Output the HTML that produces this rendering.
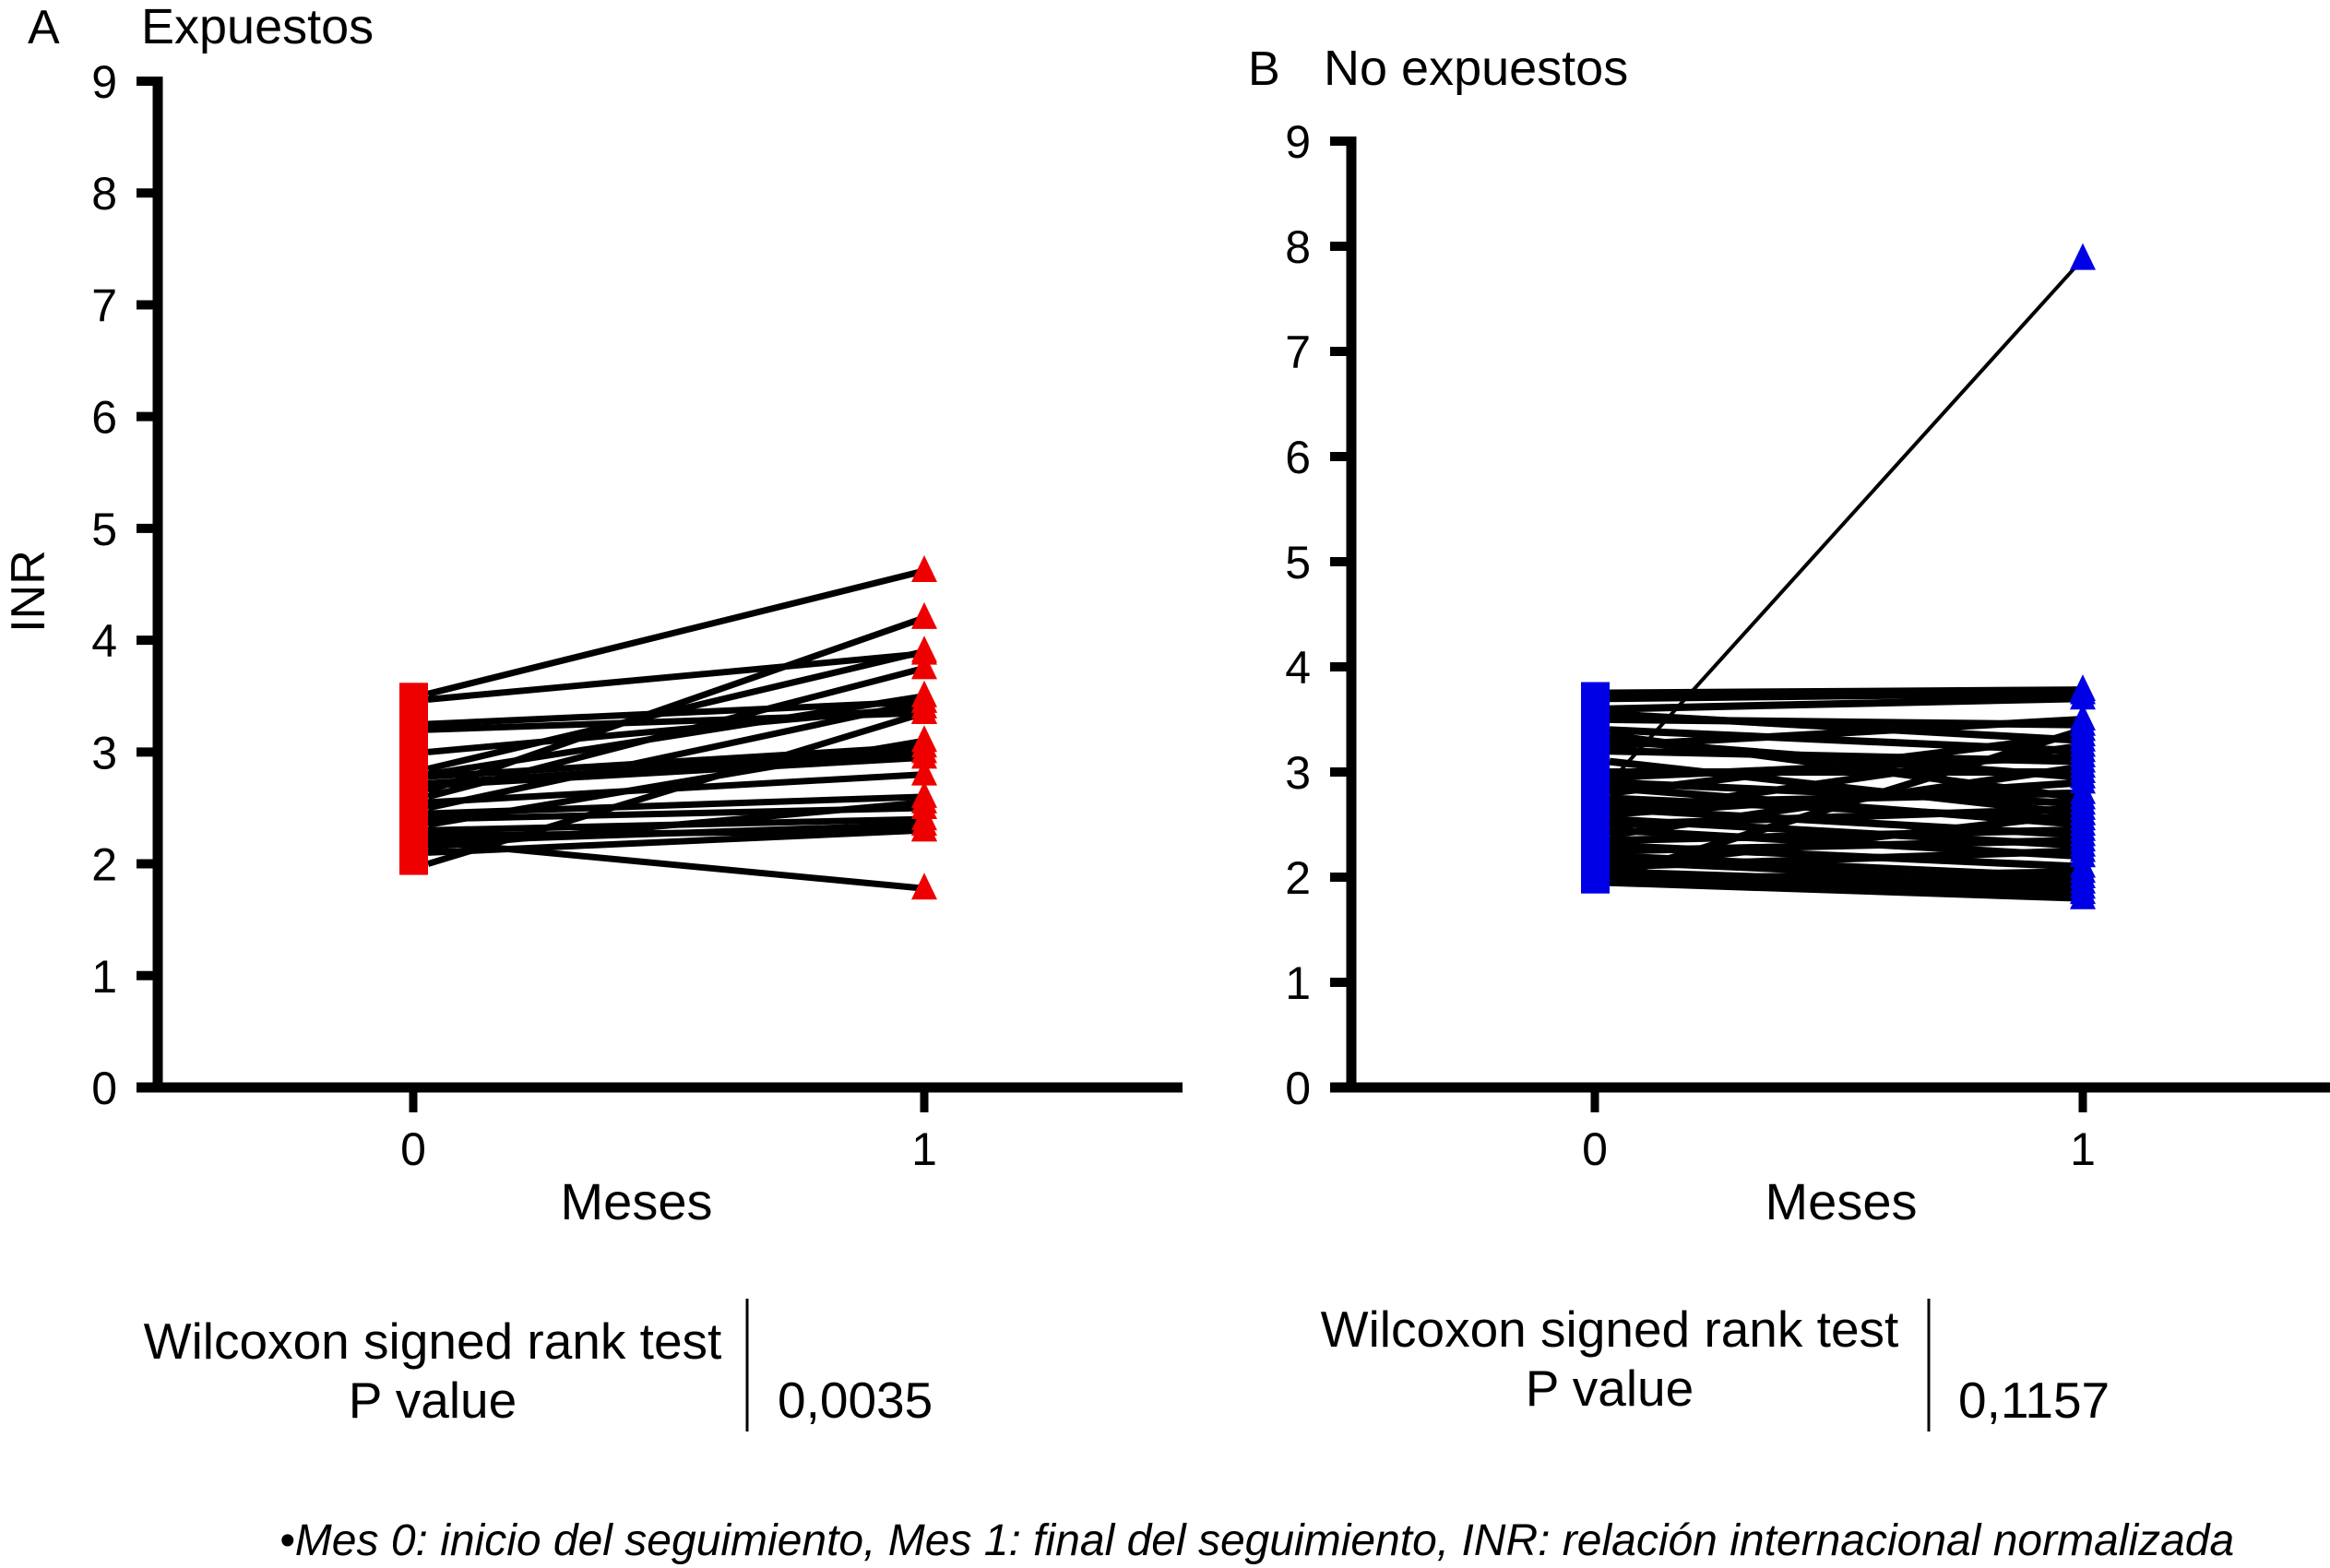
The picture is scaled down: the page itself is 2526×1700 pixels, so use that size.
<!DOCTYPE html>
<html><head><meta charset="utf-8">
<style>
html,body{margin:0;padding:0;background:#fff;}
svg{display:block;}
text{font-family:"Liberation Sans",Arial,sans-serif;fill:#000;}
</style></head>
<body>
<svg id="chart" width="2526" height="1700" viewBox="0 0 2526 1700" xmlns="http://www.w3.org/2000/svg">
<g id="panelA"></g>
<g id="panelB"></g>
<text x="30" y="47" font-size="52">A</text>
<text x="153" y="47" font-size="54">Expuestos</text>
<text x="1353" y="92" font-size="52">B</text>
<text x="1435" y="92" font-size="54">No expuestos</text>
<text transform="translate(48,641) rotate(-90)" text-anchor="middle" font-size="52">INR</text>
<text x="469" y="1473" text-anchor="middle" font-size="55">Wilcoxon signed rank test</text>
<text x="469" y="1537" text-anchor="middle" font-size="55">P value</text>
<line x1="810" y1="1408" x2="810" y2="1552" stroke="#000" stroke-width="3"/>
<text x="843" y="1537" font-size="55">0,0035</text>
<text x="1745" y="1460" text-anchor="middle" font-size="55">Wilcoxon signed rank test</text>
<text x="1745" y="1524" text-anchor="middle" font-size="55">P value</text>
<line x1="2091" y1="1408" x2="2091" y2="1552" stroke="#000" stroke-width="3"/>
<text x="2123" y="1537" font-size="55">0,1157</text>
<text x="303" y="1686" font-size="48" font-style="italic">•Mes 0: inicio del seguimiento, Mes 1: final del seguimiento, INR: relación internacional normalizada</text>
</svg>
<script>
const months = [0, 1];
const yTicks = [0,1,2,3,4,5,6,7,8,9];
const inrA0 = [3.52,3.47,3.25,3.2,3.0,2.85,2.8,2.78,2.72,2.7,2.65,2.6,2.55,2.5,2.45,2.4,2.35,2.3,2.25,2.2,2.15,2.1,2.0,2.2];
const inrA1 = [4.62,3.88,3.45,3.35,3.4,3.9,3.5,3.05,3.0,2.95,4.2,3.75,2.8,3.45,2.6,2.5,3.1,2.4,2.3,2.35,2.55,2.3,3.35,1.78];
const inrB0 = [3.75,3.7,3.6,3.55,3.5,3.4,3.3,3.25,3.2,3.1,3.0,2.95,2.9,2.85,2.8,2.75,2.7,2.65,2.6,2.55,2.5,2.45,2.4,2.35,2.3,2.25,2.2,2.15,2.1,2.05,2.0,1.98,1.95,2.9,2.1,2.6,3.35,2.0];
const inrB1 = [3.78,3.75,3.7,3.3,3.45,3.2,2.95,3.5,3.1,2.6,3.0,3.15,2.7,2.5,3.35,2.55,2.8,2.4,3.25,2.3,2.65,2.2,3.05,2.45,2.1,2.35,2.0,1.95,2.25,1.9,1.85,2.05,1.8,7.88,2.6,2.9,2.75,3.4];

const NS='http://www.w3.org/2000/svg';
function mk(parent, tag, attrs){const e=document.createElementNS(NS,tag);for(const k in attrs)e.setAttribute(k,attrs[k]);parent.appendChild(e);return e;}

function drawPanel(g, cfg, v0, v1, color, lw){
  const yS = v => cfg.y0 - v*(cfg.y0-cfg.y9)/9;
  const xS = m => cfg.x0 + m*(cfg.x1-cfg.x0);
  let ya = mk(g,'line',{x1:cfg.ax,y1:cfg.y9-5,x2:cfg.ax,y2:cfg.y0,stroke:'#000','stroke-width':11});
  
  
  let xa = mk(g,'line',{x1:cfg.ax-23,y1:cfg.y0,x2:cfg.xEnd,y2:cfg.y0,stroke:'#000','stroke-width':11});
  
  
  yTicks.forEach(t=>{
    const y=yS(t);
    let tk=mk(g,'line',{x1:cfg.ax-23,y1:y,x2:cfg.ax,y2:y,stroke:'#000','stroke-width':10});
    
    
    let tl=mk(g,'text',{x:cfg.ax-44,y:y+18,'text-anchor':'end','font-size':50});
    tl.textContent=t;
    
    
  });
  months.forEach(m=>{
    const x=xS(m);
    let tk=mk(g,'line',{x1:x,y1:cfg.y0,x2:x,y2:cfg.y0+27,stroke:'#000','stroke-width':9});
    
    
    let tl=mk(g,'text',{x:x,y:cfg.y0+84,'text-anchor':'middle','font-size':50});
    tl.textContent=m;
    
    
  });
  let xt=mk(g,'text',{x:cfg.mx,y:cfg.y0+143,'text-anchor':'middle','font-size':56});
  xt.textContent='Meses';
  
  
  for(let i=0;i<v0.length;i++){
    const w = (v1[i]>6) ? 4 : lw;
    let ln=mk(g,'line',{x1:xS(0)+16,y1:yS(v0[i]),x2:xS(1),y2:yS(v1[i]),stroke:'#000','stroke-width':w});
    
    
  }
  for(let i=0;i<v0.length;i++){
    const y=yS(v0[i]);
    let sq=mk(g,'rect',{x:xS(0)-15,y:y-8,width:31,height:16,fill:color});
    
    
  }
  const mn=Math.min(...v0), mx=Math.max(...v0);
  let bar=mk(g,'rect',{x:xS(0)-15,y:yS(mx)-12,width:31,height:yS(mn)-yS(mx)+24,fill:color});
  
  
  for(let i=0;i<v1.length;i++){
    const x=xS(1), y=yS(v1[i]);
    let tr=mk(g,'polygon',{points:`${x},${y-17} ${x-14},${y+12} ${x+14},${y+12}`,fill:color});
    
    
  }
}
drawPanel(document.getElementById('panelA'),{ax:171,y0:1179,y9:88,x0:448,x1:1002,xEnd:1282,mx:690},inrA0,inrA1,'#ee0000',7);
drawPanel(document.getElementById('panelB'),{ax:1465,y0:1179,y9:153,x0:1729,x1:2258,xEnd:2526,mx:1996},inrB0,inrB1,'#0000e6',8);
</script>
</body></html>
